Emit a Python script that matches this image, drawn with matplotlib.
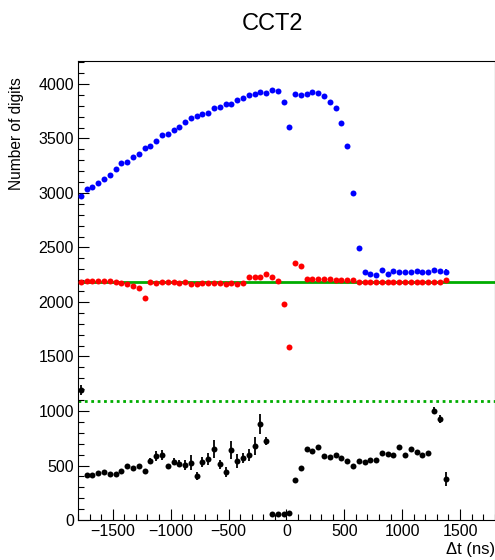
import numpy as np
import matplotlib
matplotlib.use("Agg")
import matplotlib.pyplot as plt
from matplotlib.ticker import MultipleLocator

plt.rcParams['font.family'] = ['Liberation Sans', 'DejaVu Sans']

# bin centres, 50 ns bins
dt_ns = np.arange(-1775, 1376, 50)

blue = [2972, 3037, 3058, 3095, 3131, 3165, 3217, 3272, 3284, 3330,
        3360, 3416, 3431, 3480, 3529, 3538, 3578, 3608, 3654, 3685,
        3706, 3725, 3737, 3777, 3792, 3813, 3819, 3853, 3869, 3899,
        3905, 3930, 3920, 3945, 3939, 3832, 3602, 3908, 3899, 3908,
        3923, 3914, 3893, 3838, 3777, 3645, 3434, 3003, 2493, 2273,
        2257, 2248, 2294, 2257, 2284, 2278, 2278, 2278, 2284, 2278,
        2273, 2294, 2284, 2273]

red = [2186, 2196, 2196, 2196, 2196, 2196, 2186, 2177, 2162, 2147,
       2126, 2040, 2184, 2177, 2186, 2180, 2186, 2177, 2186, 2165,
       2165, 2177, 2177, 2177, 2171, 2165, 2177, 2165, 2177, 2227,
       2232, 2232, 2257, 2227, 2196, 1985, 1584, 2355, 2330, 2208,
       2208, 2208, 2208, 2208, 2205, 2200, 2198, 2198, 2186, 2183,
       2180, 2183, 2180, 2180, 2183, 2180, 2180, 2180, 2183, 2180,
       2180, 2180, 2183, 2202]

black = [1193, 413, 413, 434, 443, 419, 425, 452, 498, 474,
         498, 452, 541, 590, 596, 492, 535, 517, 505, 526,
         404, 532, 557, 651, 511, 443, 642, 541, 566, 596,
         679, 878, 725, 55, 55, 55, 60, 367, 474, 648,
         633, 673, 590, 581, 596, 566, 541, 498, 541, 535,
         550, 550, 617, 606, 596, 673, 596, 648, 621, 596,
         617, 1003, 927, 376]

black_err = [50, 15, 15, 15, 15, 15, 15, 15, 15, 15,
             15, 20, 30, 45, 45, 25, 30, 35, 45, 70,
             35, 45, 55, 80, 40, 45, 80, 60, 45, 55,
             80, 90, 40, 10, 10, 10, 10, 15, 15, 15,
             15, 15, 15, 15, 15, 15, 15, 15, 15, 15,
             15, 15, 15, 15, 15, 15, 15, 15, 15, 15,
             15, 30, 35, 60]

blue_err = [15] * 63 + [25]
red_err = [15] * 63 + [20]

ref_level = 2180
half_level = 1090

fig = plt.figure(figsize=(4.95, 5.6), dpi=100)
ax = fig.add_axes([0.1576, 0.0714, 0.842, 0.8196])

green = (0.0, 0.68, 0.0)
ax.axhline(ref_level, color=green, lw=2.0, zorder=1)
ax.axhline(half_level, color=green, lw=2.0, ls=(0, (1, 1.3)), zorder=1)

for y, e, c in [(blue, blue_err, 'blue'), (red, red_err, 'red'), (black, black_err, 'black')]:
    ax.errorbar(dt_ns, y, yerr=e, fmt='o', color=c, ms=4.3, mew=0,
                elinewidth=1.3, capsize=0, zorder=3)

ax.set_xlim(-1800, 1800)
ax.set_ylim(0, 4210)
ax.xaxis.set_major_locator(MultipleLocator(500))
ax.xaxis.set_minor_locator(MultipleLocator(100))
ax.yaxis.set_major_locator(MultipleLocator(500))
ax.yaxis.set_minor_locator(MultipleLocator(100))
ax.tick_params(which='both', direction='in', top=False, right=False,
               labelsize=11.5, width=0.8, pad=3)
ax.tick_params(which='major', length=8)
ax.tick_params(which='minor', length=4.5)
for s in ax.spines.values():
    s.set_linewidth(0.8)

fig.text(0.55, 0.958, 'CCT2', fontsize=17, ha='center', va='center')
fig.text(0.034, 0.661, 'Number of digits', fontsize=11.2, rotation=90,
         ha='center', va='bottom')
ax.set_xlabel('\u0394t (ns)', fontsize=12, loc='right', labelpad=2)

fig.savefig('out.png', dpi=100)
